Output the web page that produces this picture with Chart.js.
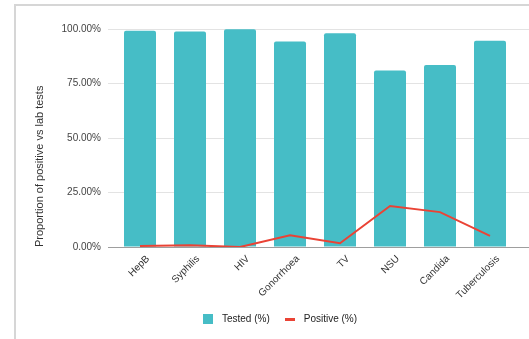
<!DOCTYPE html>
<html>
<head>
<meta charset="utf-8">
<script src="https://cdn.jsdelivr.net/npm/chart.js@4.4.1/dist/chart.umd.min.js"></script>
<style>
  html, body { margin: 0; padding: 0; width: 529px; height: 339px; overflow: hidden; background: #fff; }
  #frame { position: absolute; left: 14px; top: 4px; width: 600px; height: 400px; border: 2px solid #d6d6d6; box-sizing: border-box; z-index: 0; }
  #wrap { position: absolute; left: 0; top: 0; width: 556px; height: 339px; z-index: 1; }
</style>
</head>
<body>
<div id="frame"></div>
<div id="wrap"><canvas id="c" width="556" height="339"></canvas></div>
<script>
const categories = ["HepB", "Syphilis", "HIV", "Gonorrhoea", "TV", "NSU", "Candida", "Tuberculosis"];
const testedPct = [99.2, 98.8, 99.9, 94.3, 98.0, 81.0, 83.5, 94.6];
const positivePct = [0.5, 0.8, 0.0, 5.4, 1.7, 18.8, 16.0, 5.1];
const yTicks = [0, 25, 50, 75, 100];
const seriesNames = ["Tested (%)", "Positive (%)"];
const yTitle = "Proportion of positive vs lab tests";

const TEAL = "#46BDC6";
const RED = "#EA4335";
const FONT = "'Liberation Sans', Arial, sans-serif";
const gridColor = (ctx) => (ctx.tick && ctx.tick.value === 0) ? "#9e9e9e" : "#e3e3e3";

function swatch(w, h, color) {
  const c = document.createElement("canvas");
  c.width = w; c.height = h;
  const g = c.getContext("2d");
  g.fillStyle = color;
  g.fillRect(0, 0, w, h);
  return c;
}
const barSwatch = swatch(10, 10, TEAL);
const lineSwatch = swatch(10, 3, RED);

new Chart(document.getElementById("c"), {
  data: {
    labels: categories,
    datasets: [
      {
        type: "line",
        label: seriesNames[1],
        data: positivePct,
        borderColor: RED,
        backgroundColor: RED,
        borderWidth: 2,
        pointRadius: 0,
        pointStyle: lineSwatch,
        tension: 0,
        order: 0
      },
      {
        type: "bar",
        label: seriesNames[0],
        data: testedPct,
        backgroundColor: TEAL,
        borderWidth: 0,
        borderRadius: 2,
        borderSkipped: "bottom",
        pointStyle: barSwatch,
        categoryPercentage: 0.8,
        barPercentage: 0.8,
        order: 1
      }
    ]
  },
  options: {
    responsive: false,
    animation: false,
    events: [],
    layout: { padding: { top: 29, left: 0, right: 0, bottom: 5 } },
    scales: {
      x: {
        type: "category",
        grid: { display: false },
        border: { display: false },
        ticks: {
          autoSkip: false,
          minRotation: 45,
          maxRotation: 45,
          padding: -2,
          labelOffset: 8,
          color: "#333",
          font: { family: FONT, size: 10 }
        },
        afterFit: (s) => { s.height = 56; }
      },
      y: {
        position: "left",
        min: 0,
        max: 100,
        afterBuildTicks: (s) => { s.ticks = yTicks.map(v => ({ value: v })); },
        grid: { color: gridColor, lineWidth: 1, tickLength: 7 },
        border: { display: false },
        ticks: {
          padding: 7,
          color: "#444",
          font: { family: FONT, size: 10 },
          callback: (v) => Number(v).toFixed(2) + "%"
        },
        title: {
          display: true,
          text: yTitle,
          align: "start",
          color: "#333",
          padding: { top: 33, bottom: 0 },
          font: { family: FONT, size: 11 }
        },
        afterFit: (s) => { s.width = 115; }
      },
      y2: {
        position: "right",
        min: 0,
        max: 100,
        afterBuildTicks: (s) => { s.ticks = yTicks.map(v => ({ value: v })); },
        grid: { color: gridColor, lineWidth: 1, drawOnChartArea: false, tickLength: 41 },
        border: { display: false },
        ticks: { display: false },
        afterFit: (s) => { s.width = 41; }
      }
    },
    plugins: {
      tooltip: { enabled: false },
      legend: {
        position: "bottom",
        reverse: true,
        labels: {
          usePointStyle: true,
          pointStyleWidth: 18,
          boxWidth: 10,
          boxHeight: 10,
          padding: 11,
          color: "#222",
          font: { family: FONT, size: 10 }
        }
      }
    }
  }
});
</script>
</body>
</html>
